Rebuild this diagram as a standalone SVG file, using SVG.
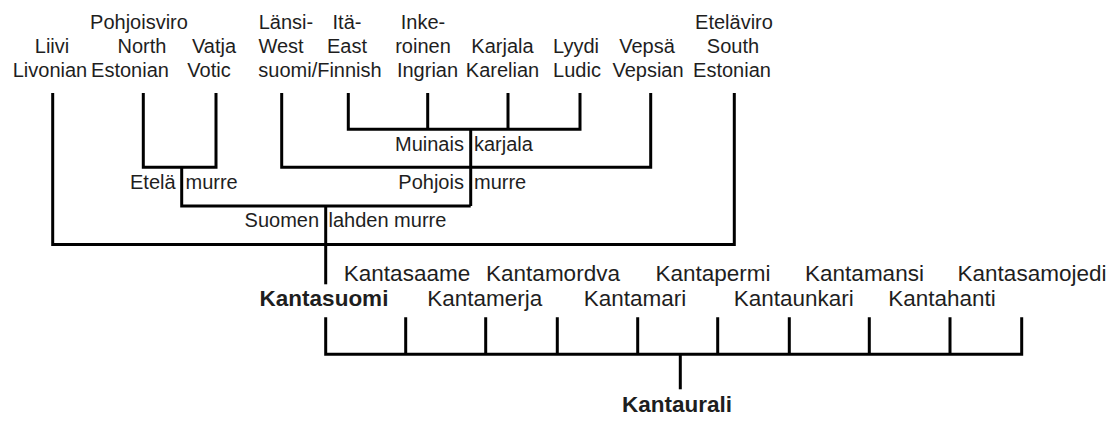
<svg xmlns="http://www.w3.org/2000/svg" width="1118" height="421" viewBox="0 0 1118 421">
<style>
text{font-family:"Liberation Sans",Arial,sans-serif;fill:#1e1e1e}
.t{font-size:20px;text-anchor:middle}
.m{font-size:20px}
.b{font-size:22.5px;text-anchor:middle}
.bb{font-size:22.5px;text-anchor:middle;font-weight:bold}
.c path{fill:none;stroke:#000;stroke-width:3;stroke-linejoin:miter;stroke-linecap:butt}
</style>
<rect width="1118" height="421" fill="#fff"/>
<g class="c" id="connectors">
<path d="M52.7 93V244.5H734.3V93"/>
<path d="M143.3 93V167.3H216V93"/>
<path d="M181.7 167.3V206H470.7"/>
<path d="M281.7 93V167.3H650.7V93"/>
<path d="M348.3 93V129.3H580V93"/>
<path d="M427.7 93V129.3M508 93V129.3"/>
<path d="M470.7 129.3V206"/>
<path d="M325.7 206V284.3"/>
<path d="M325.7 317.3V354.3H1021.7V317.3"/>
<path d="M405.7 317.3V354.3M485.7 317.3V354.3M557.3 317.3V354.3M637.7 317.3V354.3M717.7 317.3V354.3M789.3 317.3V354.3M869.3 317.3V354.3M950 317.3V354.3"/>
<path d="M680.3 354.3V389.3"/>
</g>
<g id="liivi"><text class="t" x="52" y="53">Liivi</text><text class="t" x="50" y="77">Livonian</text></g>
<g id="pohjoisviro"><text class="t" x="139" y="29">Pohjoisviro</text><text class="t" x="142" y="53">North</text><text class="t" x="130" y="77">Estonian</text></g>
<g id="vatja"><text class="t" x="214" y="53">Vatja</text><text class="t" x="209" y="77">Votic</text></g>
<g id="lansi"><text class="t" x="286" y="29">Länsi-</text><text class="t" x="281" y="53">West</text><text class="t" x="320" y="77">suomi/Finnish</text></g>
<g id="ita"><text class="t" x="347" y="29">Itä-</text><text class="t" x="347" y="53">East</text></g>
<g id="inkeroinen"><text class="t" x="423" y="29">Inke-</text><text class="t" x="423" y="53">roinen</text><text class="t" x="427.5" y="77">Ingrian</text></g>
<g id="karjala"><text class="t" x="502.5" y="53">Karjala</text><text class="t" x="502.5" y="77">Karelian</text></g>
<g id="lyydi"><text class="t" x="576" y="53">Lyydi</text><text class="t" x="577" y="77">Ludic</text></g>
<g id="vepsa"><text class="t" x="647" y="53">Vepsä</text><text class="t" x="648" y="77">Vepsian</text></g>
<g id="etelaviro"><text class="t" x="734" y="29">Eteläviro</text><text class="t" x="733" y="53">South</text><text class="t" x="732" y="77">Estonian</text></g>
<g id="muinaiskarjala"><text class="m" y="150.7"><tspan x="395">Muinais</tspan><tspan x="474">karjala</tspan></text></g>
<g id="pohjoismurre"><text class="m" y="189"><tspan x="398.3">Pohjois</tspan><tspan x="474">murre</tspan></text></g>
<g id="etelamurre"><text class="m" y="188.5"><tspan x="130">Etelä</tspan><tspan x="185.5">murre</tspan></text></g>
<g id="suomenlahdenmurre"><text class="m" y="226.7"><tspan x="244.6">Suomen</tspan><tspan x="328.5">lahden murre</tspan></text></g>
<g id="kantasuomi"><text class="bb" x="324" y="306">Kantasuomi</text></g>
<g id="kantasaame"><text class="b" x="407" y="280.7">Kantasaame</text></g>
<g id="kantamerja"><text class="b" x="484.7" y="306">Kantamerja</text></g>
<g id="kantamordva"><text class="b" x="553" y="280.7">Kantamordva</text></g>
<g id="kantamari"><text class="b" x="635" y="306">Kantamari</text></g>
<g id="kantapermi"><text class="b" x="713" y="280.7">Kantapermi</text></g>
<g id="kantaunkari"><text class="b" x="793.7" y="306">Kantaunkari</text></g>
<g id="kantamansi"><text class="b" x="864.5" y="280.7">Kantamansi</text></g>
<g id="kantahanti"><text class="b" x="942" y="306">Kantahanti</text></g>
<g id="kantasamojedi"><text class="b" x="1032" y="280.7">Kantasamojedi</text></g>
<g id="kantaurali"><text class="bb" x="677" y="412">Kantaurali</text></g>
</svg>
